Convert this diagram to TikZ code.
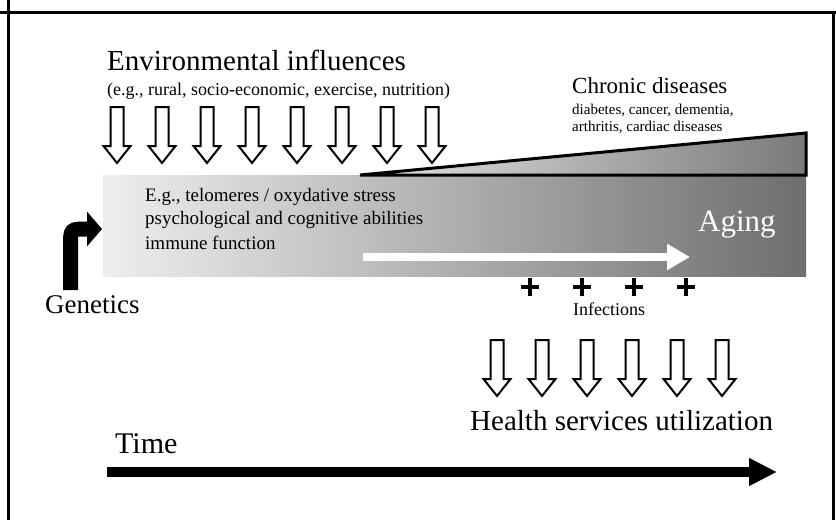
\documentclass[tikz,border=0pt]{standalone}
\usepackage{fontspec}
\setmainfont{Liberation Serif}
\usetikzlibrary{arrows.meta}
\usepackage{xcolor}
\definecolor{bandlight}{HTML}{EEEEEE}
\definecolor{banddark}{HTML}{6E6E6E}
\definecolor{wedgelight}{HTML}{E4E4E4}
\definecolor{wedgedark}{HTML}{7A7A7A}

\begin{document}
\begin{tikzpicture}[x=1pt,y=-1pt,
  lbl/.style={inner sep=0pt,anchor=base west},
  hollowdown/.pic={
    \draw[line width=2pt,fill=white,line join=miter]
      (-6.5,0) -- (6.5,0) -- (6.5,39) -- (13.5,39) -- (0,56)
      -- (-13.5,39) -- (-6.5,39) -- cycle;}]
  \useasboundingbox (0,0) rectangle (836,520);

  % Frame
  \draw[line width=3pt] (0,12.5) -- (836,12.5);
  \draw[line width=3pt] (8.5,0) -- (8.5,520);
  \draw[line width=3pt] (833.5,11) -- (833.5,520);

  % Aging band and chronic wedge
  \shade[left color=bandlight,right color=banddark] (103,175) rectangle (806,276);
  \shade[left color=wedgelight,right color=wedgedark]
    (360,175) -- (806,133) -- (806,175) -- cycle;
  \draw[line width=3pt,line join=miter] (360,175) -- (806,133) -- (806,175) -- cycle;

  % Environmental influences
  \node[lbl,font=\fontsize{29}{31}\selectfont] (envtitle) at (107,70) {Environmental influences};
  \node[lbl,font=\fontsize{18}{20}\selectfont] (envsub) at (107,95)
    {(e.g., rural, socio-economic, exercise, nutrition)};
  \foreach \x in {117,162,...,432}
    \pic at (\x,107) {hollowdown};

  % Chronic diseases
  \node[lbl,font=\fontsize{23}{25}\selectfont] (chronic) at (572,93) {Chronic diseases};
  \node[lbl,font=\fontsize{15}{17}\selectfont] (chronicA) at (572,114) {diabetes, cancer, dementia,};
  \node[lbl,font=\fontsize{15}{17}\selectfont] (chronicB) at (572,131) {arthritis, cardiac diseases};

  % Inside the band
  \node[lbl,font=\fontsize{19}{21}\selectfont] (markA) at (145,201) {E.g., telomeres / oxydative stress};
  \node[lbl,font=\fontsize{19}{21}\selectfont] (markB) at (145,224) {psychological and cognitive abilities};
  \node[lbl,font=\fontsize{19}{21}\selectfont] (markC) at (145,249) {immune function};
  \node[lbl,font=\fontsize{31}{33}\selectfont,text=white] (aging) at (698,231) {Aging};
  \coordinate (agestart) at (363,257);
  \coordinate (ageend) at (690,257);
  \draw[white,line width=8pt,-{Triangle[length=23pt,width=25pt]}] (agestart) -- (ageend);

  % Genetics
  \node[lbl,font=\fontsize{27}{29}\selectfont] (genetics) at (45,313) {Genetics};
  \coordinate (genbase) at (70.5,290);
  \coordinate (gentip) at (102,229);
  \draw[line width=15pt,-{Triangle[length=15pt,width=34pt]}]
    (genbase) -- (70.5,246) .. controls (70.5,229) .. (87,229) -- (gentip);

  % Infections
  \foreach \x in {530,582,634,686}
    \draw[line width=4pt] (\x-9,287) -- (\x+9,287) (\x,278) -- (\x,296);
  \node[lbl,font=\fontsize{18}{20}\selectfont] (infections) at (573,315) {Infections};

  % Health services utilization
  \foreach \x in {497,542,...,722}
    \pic at (\x,340) {hollowdown};
  \node[lbl,font=\fontsize{29}{31}\selectfont] (health) at (470,430) {Health services utilization};

  % Time
  \node[lbl,font=\fontsize{30}{32}\selectfont] (time) at (115,453) {Time};
  \coordinate (timestart) at (107,472);
  \coordinate (timeend) at (777,472);
  \draw[line width=10pt,-{Triangle[length=28pt,width=26pt]}] (timestart) -- (timeend);
\end{tikzpicture}
\end{document}
